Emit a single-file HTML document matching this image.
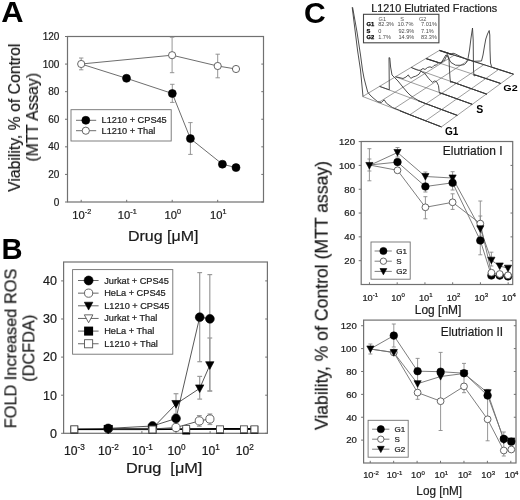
<!DOCTYPE html>
<html><head><meta charset="utf-8"><style>
html,body{margin:0;padding:0;background:#fff;}
svg{display:block;font-family:"Liberation Sans", sans-serif;}
text{will-change:transform;}
text:not([font-weight=bold]){stroke:#222;stroke-width:0.22px;}
</style></head><body>
<svg width="520" height="500" viewBox="0 0 520 500">
<rect width="520" height="500" fill="#fff"/>
<text transform="translate(1.33,21.70) scale(1.0349,1)" font-size="29.86" font-weight="bold" fill="#000">A</text>
<rect x="67.50" y="36.50" width="196.00" height="165.50" stroke="#717171" stroke-width="1.2" fill="none"/>
<line x1="65.00" y1="202.00" x2="67.50" y2="202.00" stroke="#717171" stroke-width="1.0" />
<line x1="263.50" y1="202.00" x2="261.30" y2="202.00" stroke="#717171" stroke-width="1.0" />
<text x="59.40" y="205.50" font-size="10.0" text-anchor="end" font-weight="normal" fill="#1a1a1a" >0</text>
<line x1="65.00" y1="174.42" x2="67.50" y2="174.42" stroke="#717171" stroke-width="1.0" />
<line x1="263.50" y1="174.42" x2="261.30" y2="174.42" stroke="#717171" stroke-width="1.0" />
<text x="59.40" y="177.92" font-size="10.0" text-anchor="end" font-weight="normal" fill="#1a1a1a" >20</text>
<line x1="65.00" y1="146.83" x2="67.50" y2="146.83" stroke="#717171" stroke-width="1.0" />
<line x1="263.50" y1="146.83" x2="261.30" y2="146.83" stroke="#717171" stroke-width="1.0" />
<text x="59.40" y="150.33" font-size="10.0" text-anchor="end" font-weight="normal" fill="#1a1a1a" >40</text>
<line x1="65.00" y1="119.25" x2="67.50" y2="119.25" stroke="#717171" stroke-width="1.0" />
<line x1="263.50" y1="119.25" x2="261.30" y2="119.25" stroke="#717171" stroke-width="1.0" />
<text x="59.40" y="122.75" font-size="10.0" text-anchor="end" font-weight="normal" fill="#1a1a1a" >60</text>
<line x1="65.00" y1="91.67" x2="67.50" y2="91.67" stroke="#717171" stroke-width="1.0" />
<line x1="263.50" y1="91.67" x2="261.30" y2="91.67" stroke="#717171" stroke-width="1.0" />
<text x="59.40" y="95.17" font-size="10.0" text-anchor="end" font-weight="normal" fill="#1a1a1a" >80</text>
<line x1="65.00" y1="64.08" x2="67.50" y2="64.08" stroke="#717171" stroke-width="1.0" />
<line x1="263.50" y1="64.08" x2="261.30" y2="64.08" stroke="#717171" stroke-width="1.0" />
<text x="59.40" y="67.58" font-size="10.0" text-anchor="end" font-weight="normal" fill="#1a1a1a" >100</text>
<line x1="65.00" y1="36.50" x2="67.50" y2="36.50" stroke="#717171" stroke-width="1.0" />
<line x1="263.50" y1="36.50" x2="261.30" y2="36.50" stroke="#717171" stroke-width="1.0" />
<text x="59.40" y="40.00" font-size="10.0" text-anchor="end" font-weight="normal" fill="#1a1a1a" >120</text>
<line x1="81.20" y1="202.00" x2="81.20" y2="199.80" stroke="#717171" stroke-width="1.0" />
<text x="81.80" y="218.80" font-size="11.2" text-anchor="middle" fill="#1a1a1a">10<tspan font-size="7.2" dy="-4.4">-2</tspan></text>
<line x1="126.70" y1="202.00" x2="126.70" y2="199.80" stroke="#717171" stroke-width="1.0" />
<text x="127.30" y="218.80" font-size="11.2" text-anchor="middle" fill="#1a1a1a">10<tspan font-size="7.2" dy="-4.4">-1</tspan></text>
<line x1="172.20" y1="202.00" x2="172.20" y2="199.80" stroke="#717171" stroke-width="1.0" />
<text x="172.80" y="218.80" font-size="11.2" text-anchor="middle" fill="#1a1a1a">10<tspan font-size="7.2" dy="-4.4">0</tspan></text>
<line x1="217.70" y1="202.00" x2="217.70" y2="199.80" stroke="#717171" stroke-width="1.0" />
<text x="218.30" y="218.80" font-size="11.2" text-anchor="middle" fill="#1a1a1a">10<tspan font-size="7.2" dy="-4.4">1</tspan></text>
<text transform="translate(127.92,241.00) scale(1.0827,1)" font-size="14.78" font-weight="normal" fill="#1a1a1a">Drug [&#956;M]</text>
<text transform="translate(20.00,191.88) rotate(-90) scale(0.9716,1)" font-size="16.23" font-weight="normal" fill="#1a1a1a">Viability, % of Control</text>
<text transform="translate(38.00,161.64) rotate(-90) scale(0.9520,1)" font-size="16.52" font-weight="normal" fill="#1a1a1a">(MTT Assay)</text>
<polyline points="81.20,64.00 126.50,78.30 172.30,93.50 190.40,138.60 222.40,164.20 236.00,167.60" fill="none" stroke="#6e6e6e" stroke-width="1.0" stroke-linejoin="round" />
<polyline points="81.20,64.00 172.10,55.20 217.70,66.00 236.00,69.00" fill="none" stroke="#6e6e6e" stroke-width="1.0" stroke-linejoin="round" />
<line x1="81.20" y1="58.00" x2="81.20" y2="69.80" stroke="#8a8a8a" stroke-width="0.9" />
<line x1="79.00" y1="58.00" x2="83.40" y2="58.00" stroke="#8a8a8a" stroke-width="0.9" />
<line x1="79.00" y1="69.80" x2="83.40" y2="69.80" stroke="#8a8a8a" stroke-width="0.9" />
<line x1="172.10" y1="37.20" x2="172.10" y2="72.70" stroke="#8a8a8a" stroke-width="0.9" />
<line x1="169.90" y1="37.20" x2="174.30" y2="37.20" stroke="#8a8a8a" stroke-width="0.9" />
<line x1="169.90" y1="72.70" x2="174.30" y2="72.70" stroke="#8a8a8a" stroke-width="0.9" />
<line x1="217.70" y1="54.20" x2="217.70" y2="77.80" stroke="#8a8a8a" stroke-width="0.9" />
<line x1="215.50" y1="54.20" x2="219.90" y2="54.20" stroke="#8a8a8a" stroke-width="0.9" />
<line x1="215.50" y1="77.80" x2="219.90" y2="77.80" stroke="#8a8a8a" stroke-width="0.9" />
<line x1="172.30" y1="84.30" x2="172.30" y2="102.40" stroke="#8a8a8a" stroke-width="0.9" />
<line x1="170.10" y1="84.30" x2="174.50" y2="84.30" stroke="#8a8a8a" stroke-width="0.9" />
<line x1="170.10" y1="102.40" x2="174.50" y2="102.40" stroke="#8a8a8a" stroke-width="0.9" />
<line x1="190.40" y1="122.60" x2="190.40" y2="154.40" stroke="#8a8a8a" stroke-width="0.9" />
<line x1="188.20" y1="122.60" x2="192.60" y2="122.60" stroke="#8a8a8a" stroke-width="0.9" />
<line x1="188.20" y1="154.40" x2="192.60" y2="154.40" stroke="#8a8a8a" stroke-width="0.9" />
<circle cx="126.50" cy="78.30" r="4.0" fill="#000" stroke="#000" stroke-width="0.6"/>
<circle cx="172.30" cy="93.50" r="4.0" fill="#000" stroke="#000" stroke-width="0.6"/>
<circle cx="190.40" cy="138.60" r="4.0" fill="#000" stroke="#000" stroke-width="0.6"/>
<circle cx="222.40" cy="164.20" r="4.0" fill="#000" stroke="#000" stroke-width="0.6"/>
<circle cx="236.00" cy="167.60" r="4.0" fill="#000" stroke="#000" stroke-width="0.6"/>
<circle cx="81.20" cy="64.00" r="3.6" fill="#fff" stroke="#555" stroke-width="0.9"/>
<circle cx="172.10" cy="55.20" r="3.6" fill="#fff" stroke="#555" stroke-width="0.9"/>
<circle cx="217.70" cy="66.00" r="3.6" fill="#fff" stroke="#555" stroke-width="0.9"/>
<circle cx="236.00" cy="69.00" r="3.6" fill="#fff" stroke="#555" stroke-width="0.9"/>
<rect x="71.00" y="109.70" width="100.20" height="31.30" stroke="#717171" stroke-width="0.9" fill="none"/>
<line x1="76.00" y1="120.30" x2="96.20" y2="120.30" stroke="#6e6e6e" stroke-width="1.0" />
<circle cx="85.80" cy="120.30" r="4.0" fill="#000" stroke="#000" stroke-width="0.6"/>
<text x="101.60" y="123.20" font-size="9.2" text-anchor="start" font-weight="normal" fill="#1a1a1a" >L1210 + CPS45</text>
<line x1="76.00" y1="130.70" x2="96.20" y2="130.70" stroke="#6e6e6e" stroke-width="1.0" />
<circle cx="85.80" cy="130.70" r="3.6" fill="#fff" stroke="#555" stroke-width="0.9"/>
<text x="101.60" y="133.60" font-size="9.2" text-anchor="start" font-weight="normal" fill="#1a1a1a" >L1210 + Thal</text>
<text transform="translate(1.60,258.90) scale(0.9918,1)" font-size="29.42" font-weight="bold" fill="#000">B</text>
<rect x="63.60" y="262.00" width="203.80" height="171.30" stroke="#717171" stroke-width="1.2" fill="none"/>
<line x1="61.10" y1="433.30" x2="63.60" y2="433.30" stroke="#717171" stroke-width="1.0" />
<line x1="267.40" y1="433.30" x2="265.20" y2="433.30" stroke="#717171" stroke-width="1.0" />
<text x="57.00" y="437.60" font-size="12.5" text-anchor="end" font-weight="normal" fill="#1a1a1a" >0</text>
<line x1="61.10" y1="395.20" x2="63.60" y2="395.20" stroke="#717171" stroke-width="1.0" />
<line x1="267.40" y1="395.20" x2="265.20" y2="395.20" stroke="#717171" stroke-width="1.0" />
<text x="57.00" y="399.50" font-size="12.5" text-anchor="end" font-weight="normal" fill="#1a1a1a" >10</text>
<line x1="61.10" y1="357.10" x2="63.60" y2="357.10" stroke="#717171" stroke-width="1.0" />
<line x1="267.40" y1="357.10" x2="265.20" y2="357.10" stroke="#717171" stroke-width="1.0" />
<text x="57.00" y="361.40" font-size="12.5" text-anchor="end" font-weight="normal" fill="#1a1a1a" >20</text>
<line x1="61.10" y1="319.00" x2="63.60" y2="319.00" stroke="#717171" stroke-width="1.0" />
<line x1="267.40" y1="319.00" x2="265.20" y2="319.00" stroke="#717171" stroke-width="1.0" />
<text x="57.00" y="323.30" font-size="12.5" text-anchor="end" font-weight="normal" fill="#1a1a1a" >30</text>
<line x1="61.10" y1="280.90" x2="63.60" y2="280.90" stroke="#717171" stroke-width="1.0" />
<line x1="267.40" y1="280.90" x2="265.20" y2="280.90" stroke="#717171" stroke-width="1.0" />
<text x="57.00" y="285.20" font-size="12.5" text-anchor="end" font-weight="normal" fill="#1a1a1a" >40</text>
<line x1="73.70" y1="433.30" x2="73.70" y2="431.10" stroke="#717171" stroke-width="1.0" />
<text x="74.30" y="454.80" font-size="12.2" text-anchor="middle" fill="#1a1a1a">10<tspan font-size="8.2" dy="-4.6">-3</tspan></text>
<line x1="107.80" y1="433.30" x2="107.80" y2="431.10" stroke="#717171" stroke-width="1.0" />
<text x="108.40" y="454.80" font-size="12.2" text-anchor="middle" fill="#1a1a1a">10<tspan font-size="8.2" dy="-4.6">-2</tspan></text>
<line x1="141.90" y1="433.30" x2="141.90" y2="431.10" stroke="#717171" stroke-width="1.0" />
<text x="142.50" y="454.80" font-size="12.2" text-anchor="middle" fill="#1a1a1a">10<tspan font-size="8.2" dy="-4.6">-1</tspan></text>
<line x1="176.00" y1="433.30" x2="176.00" y2="431.10" stroke="#717171" stroke-width="1.0" />
<text x="176.60" y="454.80" font-size="12.2" text-anchor="middle" fill="#1a1a1a">10<tspan font-size="8.2" dy="-4.6">0</tspan></text>
<line x1="210.10" y1="433.30" x2="210.10" y2="431.10" stroke="#717171" stroke-width="1.0" />
<text x="210.70" y="454.80" font-size="12.2" text-anchor="middle" fill="#1a1a1a">10<tspan font-size="8.2" dy="-4.6">1</tspan></text>
<line x1="244.20" y1="433.30" x2="244.20" y2="431.10" stroke="#717171" stroke-width="1.0" />
<text x="244.80" y="454.80" font-size="12.2" text-anchor="middle" fill="#1a1a1a">10<tspan font-size="8.2" dy="-4.6">2</tspan></text>
<text transform="translate(125.99,473.40) scale(1.0826,1)" font-size="15.07" font-weight="normal" fill="#1a1a1a">Drug&#160;&#160;[&#956;M]</text>
<text transform="translate(16.40,428.31) rotate(-90) scale(1.0056,1)" font-size="16.23" font-weight="normal" fill="#1a1a1a">FOLD Increased ROS</text>
<text transform="translate(34.40,381.78) rotate(-90) scale(1.0067,1)" font-size="16.23" font-weight="normal" fill="#1a1a1a">(DCFDA)</text>
<polyline points="74.30,429.20 108.20,429.10 152.50,429.20 186.20,429.00 220.00,428.80 243.90,428.80 254.40,428.90" fill="none" stroke="#000" stroke-width="1.6" stroke-linejoin="round" />
<polyline points="74.30,429.60 108.20,429.60 152.50,429.60 186.20,429.40 220.00,429.30 243.90,429.30 254.40,429.30" fill="none" stroke="#000" stroke-width="1.0" stroke-linejoin="round" />
<polyline points="108.20,428.40 152.50,426.00 176.00,418.50 199.70,317.20 209.90,318.80" fill="none" stroke="#444" stroke-width="0.9" stroke-linejoin="round" />
<polyline points="108.20,429.00 152.50,429.00 176.00,427.50 199.30,420.90 209.90,419.00" fill="none" stroke="#444" stroke-width="0.9" stroke-linejoin="round" />
<polyline points="108.20,428.90 152.50,428.30 176.00,404.00 199.70,388.40 209.80,365.20" fill="none" stroke="#444" stroke-width="0.9" stroke-linejoin="round" />
<line x1="199.70" y1="272.60" x2="199.70" y2="361.70" stroke="#9a9a9a" stroke-width="1.2" />
<line x1="197.30" y1="272.60" x2="202.10" y2="272.60" stroke="#9a9a9a" stroke-width="1.2" />
<line x1="197.30" y1="361.70" x2="202.10" y2="361.70" stroke="#9a9a9a" stroke-width="1.2" />
<line x1="209.80" y1="274.60" x2="209.80" y2="391.00" stroke="#9a9a9a" stroke-width="1.2" />
<line x1="207.40" y1="274.60" x2="212.20" y2="274.60" stroke="#9a9a9a" stroke-width="1.2" />
<line x1="207.40" y1="391.00" x2="212.20" y2="391.00" stroke="#9a9a9a" stroke-width="1.2" />
<line x1="176.00" y1="393.70" x2="176.00" y2="414.00" stroke="#9a9a9a" stroke-width="1.2" />
<line x1="173.60" y1="393.70" x2="178.40" y2="393.70" stroke="#9a9a9a" stroke-width="1.2" />
<line x1="173.60" y1="414.00" x2="178.40" y2="414.00" stroke="#9a9a9a" stroke-width="1.2" />
<line x1="199.70" y1="376.40" x2="199.70" y2="399.10" stroke="#9a9a9a" stroke-width="1.2" />
<line x1="197.30" y1="376.40" x2="202.10" y2="376.40" stroke="#9a9a9a" stroke-width="1.2" />
<line x1="197.30" y1="399.10" x2="202.10" y2="399.10" stroke="#9a9a9a" stroke-width="1.2" />
<line x1="209.80" y1="338.00" x2="209.80" y2="391.00" stroke="#9a9a9a" stroke-width="1.2" />
<line x1="207.40" y1="338.00" x2="212.20" y2="338.00" stroke="#9a9a9a" stroke-width="1.2" />
<line x1="207.40" y1="391.00" x2="212.20" y2="391.00" stroke="#9a9a9a" stroke-width="1.2" />
<line x1="199.30" y1="415.60" x2="199.30" y2="426.20" stroke="#9a9a9a" stroke-width="1.2" />
<line x1="196.90" y1="415.60" x2="201.70" y2="415.60" stroke="#9a9a9a" stroke-width="1.2" />
<line x1="196.90" y1="426.20" x2="201.70" y2="426.20" stroke="#9a9a9a" stroke-width="1.2" />
<line x1="209.90" y1="414.00" x2="209.90" y2="424.50" stroke="#9a9a9a" stroke-width="1.2" />
<line x1="207.50" y1="414.00" x2="212.30" y2="414.00" stroke="#9a9a9a" stroke-width="1.2" />
<line x1="207.50" y1="424.50" x2="212.30" y2="424.50" stroke="#9a9a9a" stroke-width="1.2" />
<rect x="70.40" y="425.70" width="7.80" height="7.80" fill="#000"/>
<rect x="148.60" y="425.90" width="7.80" height="7.80" fill="#000"/>
<rect x="182.30" y="426.70" width="7.80" height="7.80" fill="#000"/>
<rect x="216.10" y="425.90" width="7.80" height="7.80" fill="#000"/>
<rect x="240.00" y="425.90" width="7.80" height="7.80" fill="#000"/>
<rect x="250.50" y="425.90" width="7.80" height="7.80" fill="#000"/>
<rect x="70.85" y="425.85" width="6.90" height="6.90" fill="#fff" stroke="#555" stroke-width="0.9"/>
<rect x="149.05" y="426.05" width="6.90" height="6.90" fill="#fff" stroke="#555" stroke-width="0.9"/>
<rect x="182.75" y="425.55" width="6.90" height="6.90" fill="#fff" stroke="#555" stroke-width="0.9"/>
<rect x="216.55" y="425.85" width="6.90" height="6.90" fill="#fff" stroke="#555" stroke-width="0.9"/>
<rect x="240.45" y="425.85" width="6.90" height="6.90" fill="#fff" stroke="#555" stroke-width="0.9"/>
<rect x="250.95" y="425.85" width="6.90" height="6.90" fill="#fff" stroke="#555" stroke-width="0.9"/>
<polygon points="104.02,425.48 112.38,425.48 108.20,433.18" fill="#fff" stroke="#555" stroke-width="0.9" stroke-linejoin="round"/>
<circle cx="108.20" cy="429.00" r="4.1" fill="#fff" stroke="#555" stroke-width="0.9"/>
<circle cx="152.50" cy="429.00" r="4.1" fill="#fff" stroke="#555" stroke-width="0.9"/>
<circle cx="176.00" cy="427.50" r="4.1" fill="#fff" stroke="#555" stroke-width="0.9"/>
<circle cx="199.30" cy="420.90" r="4.1" fill="#fff" stroke="#555" stroke-width="0.9"/>
<circle cx="209.90" cy="419.00" r="4.1" fill="#fff" stroke="#555" stroke-width="0.9"/>
<polygon points="104.02,425.38 112.38,425.38 108.20,433.08" fill="#000" stroke="#000" stroke-width="0.6" stroke-linejoin="round"/>
<polygon points="148.32,424.78 156.68,424.78 152.50,432.48" fill="#000" stroke="#000" stroke-width="0.6" stroke-linejoin="round"/>
<polygon points="171.82,400.48 180.18,400.48 176.00,408.18" fill="#000" stroke="#000" stroke-width="0.6" stroke-linejoin="round"/>
<polygon points="195.52,384.88 203.88,384.88 199.70,392.58" fill="#000" stroke="#000" stroke-width="0.6" stroke-linejoin="round"/>
<polygon points="205.62,361.68 213.98,361.68 209.80,369.38" fill="#000" stroke="#000" stroke-width="0.6" stroke-linejoin="round"/>
<circle cx="108.20" cy="428.40" r="4.4" fill="#000" stroke="#000" stroke-width="0.6"/>
<circle cx="152.50" cy="426.00" r="4.4" fill="#000" stroke="#000" stroke-width="0.6"/>
<circle cx="176.00" cy="418.50" r="4.4" fill="#000" stroke="#000" stroke-width="0.6"/>
<circle cx="199.70" cy="317.20" r="4.4" fill="#000" stroke="#000" stroke-width="0.6"/>
<circle cx="209.90" cy="318.80" r="4.4" fill="#000" stroke="#000" stroke-width="0.6"/>
<polygon points="104.02,426.08 112.38,426.08 108.20,433.78" fill="#000" stroke="#000" stroke-width="0.6" stroke-linejoin="round"/>
<rect x="149.05" y="426.05" width="6.90" height="6.90" fill="#fff" stroke="#555" stroke-width="0.9"/>
<rect x="72.60" y="269.60" width="100.20" height="84.60" stroke="#717171" stroke-width="0.9" fill="none"/>
<line x1="78.00" y1="280.50" x2="98.60" y2="280.50" stroke="#555" stroke-width="0.9" />
<circle cx="88.60" cy="280.50" r="4.5" fill="#000" stroke="#000" stroke-width="0.6"/>
<text x="104.20" y="283.50" font-size="9.2" text-anchor="start" font-weight="normal" fill="#1a1a1a" >Jurkat + CPS45</text>
<line x1="78.00" y1="293.15" x2="98.60" y2="293.15" stroke="#555" stroke-width="0.9" />
<circle cx="88.60" cy="293.15" r="4.1" fill="#fff" stroke="#555" stroke-width="0.9"/>
<text x="104.20" y="296.15" font-size="9.2" text-anchor="start" font-weight="normal" fill="#1a1a1a" >HeLa + CPS45</text>
<line x1="78.00" y1="305.80" x2="98.60" y2="305.80" stroke="#555" stroke-width="0.9" />
<polygon points="84.32,302.20 92.88,302.20 88.60,310.07" fill="#000" stroke="#000" stroke-width="0.6" stroke-linejoin="round"/>
<text x="104.20" y="308.80" font-size="9.2" text-anchor="start" font-weight="normal" fill="#1a1a1a" >L1210 + CPS45</text>
<line x1="78.00" y1="318.45" x2="98.60" y2="318.45" stroke="#555" stroke-width="0.9" />
<polygon points="84.32,314.85 92.88,314.85 88.60,322.72" fill="#fff" stroke="#555" stroke-width="0.9" stroke-linejoin="round"/>
<text x="104.20" y="321.45" font-size="9.2" text-anchor="start" font-weight="normal" fill="#1a1a1a" >Jurkat + Thal</text>
<line x1="78.00" y1="331.10" x2="98.60" y2="331.10" stroke="#555" stroke-width="0.9" />
<rect x="84.10" y="326.60" width="9.00" height="9.00" fill="#000"/>
<text x="104.20" y="334.10" font-size="9.2" text-anchor="start" font-weight="normal" fill="#1a1a1a" >HeLa + Thal</text>
<line x1="78.00" y1="343.75" x2="98.60" y2="343.75" stroke="#555" stroke-width="0.9" />
<rect x="84.55" y="339.70" width="8.10" height="8.10" fill="#fff" stroke="#555" stroke-width="0.9"/>
<text x="104.20" y="346.75" font-size="9.2" text-anchor="start" font-weight="normal" fill="#1a1a1a" >L1210 + Thal</text>
<text transform="translate(304.00,22.80) scale(1.0316,1)" font-size="29.15" font-weight="bold" fill="#000">C</text>
<rect x="361.20" y="141.50" width="151.50" height="143.00" stroke="#717171" stroke-width="1.2" fill="none"/>
<line x1="358.70" y1="260.68" x2="361.20" y2="260.68" stroke="#717171" stroke-width="1.0" />
<line x1="512.70" y1="260.68" x2="510.50" y2="260.68" stroke="#717171" stroke-width="1.0" />
<text x="355.00" y="263.98" font-size="9.6" text-anchor="end" font-weight="normal" fill="#1a1a1a" >20</text>
<line x1="358.70" y1="236.86" x2="361.20" y2="236.86" stroke="#717171" stroke-width="1.0" />
<line x1="512.70" y1="236.86" x2="510.50" y2="236.86" stroke="#717171" stroke-width="1.0" />
<text x="355.00" y="240.16" font-size="9.6" text-anchor="end" font-weight="normal" fill="#1a1a1a" >40</text>
<line x1="358.70" y1="213.04" x2="361.20" y2="213.04" stroke="#717171" stroke-width="1.0" />
<line x1="512.70" y1="213.04" x2="510.50" y2="213.04" stroke="#717171" stroke-width="1.0" />
<text x="355.00" y="216.34" font-size="9.6" text-anchor="end" font-weight="normal" fill="#1a1a1a" >60</text>
<line x1="358.70" y1="189.22" x2="361.20" y2="189.22" stroke="#717171" stroke-width="1.0" />
<line x1="512.70" y1="189.22" x2="510.50" y2="189.22" stroke="#717171" stroke-width="1.0" />
<text x="355.00" y="192.52" font-size="9.6" text-anchor="end" font-weight="normal" fill="#1a1a1a" >80</text>
<line x1="358.70" y1="165.40" x2="361.20" y2="165.40" stroke="#717171" stroke-width="1.0" />
<line x1="512.70" y1="165.40" x2="510.50" y2="165.40" stroke="#717171" stroke-width="1.0" />
<text x="355.00" y="168.70" font-size="9.6" text-anchor="end" font-weight="normal" fill="#1a1a1a" >100</text>
<line x1="358.70" y1="141.58" x2="361.20" y2="141.58" stroke="#717171" stroke-width="1.0" />
<line x1="512.70" y1="141.58" x2="510.50" y2="141.58" stroke="#717171" stroke-width="1.0" />
<text x="355.00" y="144.88" font-size="9.6" text-anchor="end" font-weight="normal" fill="#1a1a1a" >120</text>
<line x1="369.46" y1="284.50" x2="369.46" y2="282.30" stroke="#717171" stroke-width="1.0" />
<text x="370.26" y="300.50" font-size="9.3" text-anchor="middle" fill="#1a1a1a">10<tspan font-size="6.0" dy="-3.6">-1</tspan></text>
<line x1="397.20" y1="284.50" x2="397.20" y2="282.30" stroke="#717171" stroke-width="1.0" />
<text x="398.00" y="300.50" font-size="9.3" text-anchor="middle" fill="#1a1a1a">10<tspan font-size="6.0" dy="-3.6">0</tspan></text>
<line x1="424.94" y1="284.50" x2="424.94" y2="282.30" stroke="#717171" stroke-width="1.0" />
<text x="425.74" y="300.50" font-size="9.3" text-anchor="middle" fill="#1a1a1a">10<tspan font-size="6.0" dy="-3.6">1</tspan></text>
<line x1="452.68" y1="284.50" x2="452.68" y2="282.30" stroke="#717171" stroke-width="1.0" />
<text x="453.48" y="300.50" font-size="9.3" text-anchor="middle" fill="#1a1a1a">10<tspan font-size="6.0" dy="-3.6">2</tspan></text>
<line x1="480.42" y1="284.50" x2="480.42" y2="282.30" stroke="#717171" stroke-width="1.0" />
<text x="481.22" y="300.50" font-size="9.3" text-anchor="middle" fill="#1a1a1a">10<tspan font-size="6.0" dy="-3.6">3</tspan></text>
<line x1="508.16" y1="284.50" x2="508.16" y2="282.30" stroke="#717171" stroke-width="1.0" />
<text x="508.96" y="300.50" font-size="9.3" text-anchor="middle" fill="#1a1a1a">10<tspan font-size="6.0" dy="-3.6">4</tspan></text>
<text transform="translate(414.84,313.80) scale(0.9818,1)" font-size="12.17" font-weight="normal" fill="#1a1a1a">Log [nM]</text>
<text transform="translate(442.84,155.40) scale(0.9931,1)" font-size="12.03" font-weight="normal" fill="#1a1a1a">Elutriation I</text>
<polyline points="369.40,165.00 397.50,170.30 425.40,207.30 452.60,202.30 480.30,223.60 491.40,272.70 499.70,274.00 508.00,275.30" fill="none" stroke="#6e6e6e" stroke-width="0.9" stroke-linejoin="round" />
<polyline points="369.40,165.00 397.50,162.10 425.40,186.50 452.60,182.80 480.30,240.50 491.40,275.50 499.70,275.60 508.00,276.40" fill="none" stroke="#6e6e6e" stroke-width="0.9" stroke-linejoin="round" />
<polyline points="369.40,165.50 397.50,152.50 425.40,176.50 452.60,178.00 480.30,228.80 491.40,260.20 499.70,266.00 508.00,268.20" fill="none" stroke="#6e6e6e" stroke-width="0.9" stroke-linejoin="round" />
<line x1="369.40" y1="148.70" x2="369.40" y2="180.80" stroke="#8a8a8a" stroke-width="0.9" />
<line x1="367.40" y1="148.70" x2="371.40" y2="148.70" stroke="#8a8a8a" stroke-width="0.9" />
<line x1="367.40" y1="180.80" x2="371.40" y2="180.80" stroke="#8a8a8a" stroke-width="0.9" />
<line x1="369.40" y1="159.00" x2="369.40" y2="171.00" stroke="#8a8a8a" stroke-width="0.9" />
<line x1="367.40" y1="159.00" x2="371.40" y2="159.00" stroke="#8a8a8a" stroke-width="0.9" />
<line x1="367.40" y1="171.00" x2="371.40" y2="171.00" stroke="#8a8a8a" stroke-width="0.9" />
<line x1="397.50" y1="147.50" x2="397.50" y2="157.00" stroke="#8a8a8a" stroke-width="0.9" />
<line x1="395.50" y1="147.50" x2="399.50" y2="147.50" stroke="#8a8a8a" stroke-width="0.9" />
<line x1="395.50" y1="157.00" x2="399.50" y2="157.00" stroke="#8a8a8a" stroke-width="0.9" />
<line x1="425.40" y1="196.70" x2="425.40" y2="218.80" stroke="#8a8a8a" stroke-width="0.9" />
<line x1="423.40" y1="196.70" x2="427.40" y2="196.70" stroke="#8a8a8a" stroke-width="0.9" />
<line x1="423.40" y1="218.80" x2="427.40" y2="218.80" stroke="#8a8a8a" stroke-width="0.9" />
<line x1="425.40" y1="172.00" x2="425.40" y2="192.00" stroke="#8a8a8a" stroke-width="0.9" />
<line x1="423.40" y1="172.00" x2="427.40" y2="172.00" stroke="#8a8a8a" stroke-width="0.9" />
<line x1="423.40" y1="192.00" x2="427.40" y2="192.00" stroke="#8a8a8a" stroke-width="0.9" />
<line x1="452.60" y1="171.70" x2="452.60" y2="190.00" stroke="#8a8a8a" stroke-width="0.9" />
<line x1="450.60" y1="171.70" x2="454.60" y2="171.70" stroke="#8a8a8a" stroke-width="0.9" />
<line x1="450.60" y1="190.00" x2="454.60" y2="190.00" stroke="#8a8a8a" stroke-width="0.9" />
<line x1="452.60" y1="193.80" x2="452.60" y2="209.40" stroke="#8a8a8a" stroke-width="0.9" />
<line x1="450.60" y1="193.80" x2="454.60" y2="193.80" stroke="#8a8a8a" stroke-width="0.9" />
<line x1="450.60" y1="209.40" x2="454.60" y2="209.40" stroke="#8a8a8a" stroke-width="0.9" />
<line x1="480.30" y1="201.00" x2="480.30" y2="254.80" stroke="#8a8a8a" stroke-width="0.9" />
<line x1="478.30" y1="201.00" x2="482.30" y2="201.00" stroke="#8a8a8a" stroke-width="0.9" />
<line x1="478.30" y1="254.80" x2="482.30" y2="254.80" stroke="#8a8a8a" stroke-width="0.9" />
<line x1="480.30" y1="216.00" x2="480.30" y2="236.00" stroke="#8a8a8a" stroke-width="0.9" />
<line x1="478.30" y1="216.00" x2="482.30" y2="216.00" stroke="#8a8a8a" stroke-width="0.9" />
<line x1="478.30" y1="236.00" x2="482.30" y2="236.00" stroke="#8a8a8a" stroke-width="0.9" />
<line x1="491.40" y1="252.20" x2="491.40" y2="266.00" stroke="#8a8a8a" stroke-width="0.9" />
<line x1="489.40" y1="252.20" x2="493.40" y2="252.20" stroke="#8a8a8a" stroke-width="0.9" />
<line x1="489.40" y1="266.00" x2="493.40" y2="266.00" stroke="#8a8a8a" stroke-width="0.9" />
<circle cx="397.50" cy="162.10" r="3.8" fill="#000" stroke="#000" stroke-width="0.6"/>
<circle cx="425.40" cy="186.50" r="3.8" fill="#000" stroke="#000" stroke-width="0.6"/>
<circle cx="452.60" cy="182.80" r="3.8" fill="#000" stroke="#000" stroke-width="0.6"/>
<circle cx="480.30" cy="240.50" r="3.8" fill="#000" stroke="#000" stroke-width="0.6"/>
<circle cx="491.40" cy="275.50" r="3.8" fill="#000" stroke="#000" stroke-width="0.6"/>
<circle cx="499.70" cy="275.60" r="3.8" fill="#000" stroke="#000" stroke-width="0.6"/>
<circle cx="508.00" cy="276.40" r="3.8" fill="#000" stroke="#000" stroke-width="0.6"/>
<circle cx="397.50" cy="170.30" r="3.4" fill="#fff" stroke="#555" stroke-width="0.9"/>
<circle cx="425.40" cy="207.30" r="3.4" fill="#fff" stroke="#555" stroke-width="0.9"/>
<circle cx="452.60" cy="202.30" r="3.4" fill="#fff" stroke="#555" stroke-width="0.9"/>
<circle cx="480.30" cy="223.60" r="3.4" fill="#fff" stroke="#555" stroke-width="0.9"/>
<circle cx="491.40" cy="272.70" r="3.4" fill="#fff" stroke="#555" stroke-width="0.9"/>
<circle cx="499.70" cy="274.00" r="3.4" fill="#fff" stroke="#555" stroke-width="0.9"/>
<circle cx="508.00" cy="275.30" r="3.4" fill="#fff" stroke="#555" stroke-width="0.9"/>
<polygon points="365.79,162.46 373.01,162.46 369.40,169.11" fill="#000" stroke="#000" stroke-width="0.6" stroke-linejoin="round"/>
<polygon points="393.89,149.46 401.11,149.46 397.50,156.11" fill="#000" stroke="#000" stroke-width="0.6" stroke-linejoin="round"/>
<polygon points="421.79,173.46 429.01,173.46 425.40,180.11" fill="#000" stroke="#000" stroke-width="0.6" stroke-linejoin="round"/>
<polygon points="448.99,174.96 456.21,174.96 452.60,181.61" fill="#000" stroke="#000" stroke-width="0.6" stroke-linejoin="round"/>
<polygon points="476.69,225.76 483.91,225.76 480.30,232.41" fill="#000" stroke="#000" stroke-width="0.6" stroke-linejoin="round"/>
<polygon points="487.79,257.16 495.01,257.16 491.40,263.81" fill="#000" stroke="#000" stroke-width="0.6" stroke-linejoin="round"/>
<polygon points="496.09,262.96 503.31,262.96 499.70,269.61" fill="#000" stroke="#000" stroke-width="0.6" stroke-linejoin="round"/>
<polygon points="504.39,265.16 511.61,265.16 508.00,271.81" fill="#000" stroke="#000" stroke-width="0.6" stroke-linejoin="round"/>
<rect x="371.00" y="242.00" width="39.20" height="37.20" stroke="#717171" stroke-width="0.9" fill="none"/>
<line x1="374.60" y1="251.00" x2="391.80" y2="251.00" stroke="#6e6e6e" stroke-width="0.9" />
<circle cx="383.40" cy="251.00" r="3.6" fill="#000" stroke="#000" stroke-width="0.6"/>
<text x="396.30" y="253.90" font-size="8.0" text-anchor="start" font-weight="normal" fill="#1a1a1a" >G1</text>
<line x1="374.60" y1="261.20" x2="391.80" y2="261.20" stroke="#6e6e6e" stroke-width="0.9" />
<circle cx="383.40" cy="261.20" r="3.2" fill="#fff" stroke="#555" stroke-width="0.9"/>
<text x="396.30" y="264.10" font-size="8.0" text-anchor="start" font-weight="normal" fill="#1a1a1a" >S</text>
<line x1="374.60" y1="271.40" x2="391.80" y2="271.40" stroke="#6e6e6e" stroke-width="0.9" />
<polygon points="379.98,268.52 386.82,268.52 383.40,274.82" fill="#000" stroke="#000" stroke-width="0.6" stroke-linejoin="round"/>
<text x="396.30" y="274.30" font-size="8.0" text-anchor="start" font-weight="normal" fill="#1a1a1a" >G2</text>
<rect x="363.60" y="320.10" width="152.40" height="142.90" stroke="#717171" stroke-width="1.2" fill="none"/>
<line x1="361.10" y1="440.12" x2="363.60" y2="440.12" stroke="#717171" stroke-width="1.0" />
<line x1="516.00" y1="440.12" x2="513.80" y2="440.12" stroke="#717171" stroke-width="1.0" />
<text x="356.80" y="443.42" font-size="9.6" text-anchor="end" font-weight="normal" fill="#1a1a1a" >20</text>
<line x1="361.10" y1="417.24" x2="363.60" y2="417.24" stroke="#717171" stroke-width="1.0" />
<line x1="516.00" y1="417.24" x2="513.80" y2="417.24" stroke="#717171" stroke-width="1.0" />
<text x="356.80" y="420.54" font-size="9.6" text-anchor="end" font-weight="normal" fill="#1a1a1a" >40</text>
<line x1="361.10" y1="394.36" x2="363.60" y2="394.36" stroke="#717171" stroke-width="1.0" />
<line x1="516.00" y1="394.36" x2="513.80" y2="394.36" stroke="#717171" stroke-width="1.0" />
<text x="356.80" y="397.66" font-size="9.6" text-anchor="end" font-weight="normal" fill="#1a1a1a" >60</text>
<line x1="361.10" y1="371.48" x2="363.60" y2="371.48" stroke="#717171" stroke-width="1.0" />
<line x1="516.00" y1="371.48" x2="513.80" y2="371.48" stroke="#717171" stroke-width="1.0" />
<text x="356.80" y="374.78" font-size="9.6" text-anchor="end" font-weight="normal" fill="#1a1a1a" >80</text>
<line x1="361.10" y1="348.60" x2="363.60" y2="348.60" stroke="#717171" stroke-width="1.0" />
<line x1="516.00" y1="348.60" x2="513.80" y2="348.60" stroke="#717171" stroke-width="1.0" />
<text x="356.80" y="351.90" font-size="9.6" text-anchor="end" font-weight="normal" fill="#1a1a1a" >100</text>
<line x1="361.10" y1="325.72" x2="363.60" y2="325.72" stroke="#717171" stroke-width="1.0" />
<line x1="516.00" y1="325.72" x2="513.80" y2="325.72" stroke="#717171" stroke-width="1.0" />
<text x="356.80" y="329.02" font-size="9.6" text-anchor="end" font-weight="normal" fill="#1a1a1a" >120</text>
<line x1="370.24" y1="463.00" x2="370.24" y2="460.80" stroke="#717171" stroke-width="1.0" />
<text x="371.04" y="478.40" font-size="9.3" text-anchor="middle" fill="#1a1a1a">10<tspan font-size="6.0" dy="-3.6">-2</tspan></text>
<line x1="393.67" y1="463.00" x2="393.67" y2="460.80" stroke="#717171" stroke-width="1.0" />
<text x="394.47" y="478.40" font-size="9.3" text-anchor="middle" fill="#1a1a1a">10<tspan font-size="6.0" dy="-3.6">-1</tspan></text>
<line x1="417.10" y1="463.00" x2="417.10" y2="460.80" stroke="#717171" stroke-width="1.0" />
<text x="417.90" y="478.40" font-size="9.3" text-anchor="middle" fill="#1a1a1a">10<tspan font-size="6.0" dy="-3.6">0</tspan></text>
<line x1="440.53" y1="463.00" x2="440.53" y2="460.80" stroke="#717171" stroke-width="1.0" />
<text x="441.33" y="478.40" font-size="9.3" text-anchor="middle" fill="#1a1a1a">10<tspan font-size="6.0" dy="-3.6">1</tspan></text>
<line x1="463.96" y1="463.00" x2="463.96" y2="460.80" stroke="#717171" stroke-width="1.0" />
<text x="464.76" y="478.40" font-size="9.3" text-anchor="middle" fill="#1a1a1a">10<tspan font-size="6.0" dy="-3.6">2</tspan></text>
<line x1="487.39" y1="463.00" x2="487.39" y2="460.80" stroke="#717171" stroke-width="1.0" />
<text x="488.19" y="478.40" font-size="9.3" text-anchor="middle" fill="#1a1a1a">10<tspan font-size="6.0" dy="-3.6">3</tspan></text>
<line x1="510.82" y1="463.00" x2="510.82" y2="460.80" stroke="#717171" stroke-width="1.0" />
<text x="511.62" y="478.40" font-size="9.3" text-anchor="middle" fill="#1a1a1a">10<tspan font-size="6.0" dy="-3.6">4</tspan></text>
<text transform="translate(416.36,495.20) scale(0.9439,1)" font-size="12.46" font-weight="normal" fill="#1a1a1a">Log [nM]</text>
<text transform="translate(440.75,335.70) scale(0.9595,1)" font-size="12.32" font-weight="normal" fill="#1a1a1a">Elutriation II</text>
<polyline points="370.40,349.00 393.80,352.50 417.60,392.60 440.60,401.20 464.00,386.40 487.60,419.30 503.80,450.50 511.30,449.50" fill="none" stroke="#6e6e6e" stroke-width="0.9" stroke-linejoin="round" />
<polyline points="370.40,348.90 393.80,335.60 417.60,371.20 440.60,371.70 464.00,373.20 487.60,395.50 503.80,438.90 511.30,441.70" fill="none" stroke="#6e6e6e" stroke-width="0.9" stroke-linejoin="round" />
<polyline points="370.40,349.00 393.80,352.50 417.60,383.70 440.60,376.50 464.00,373.50 487.60,392.70 503.80,440.00 511.30,441.00" fill="none" stroke="#6e6e6e" stroke-width="0.9" stroke-linejoin="round" />
<line x1="370.40" y1="344.00" x2="370.40" y2="354.00" stroke="#8a8a8a" stroke-width="0.9" />
<line x1="368.40" y1="344.00" x2="372.40" y2="344.00" stroke="#8a8a8a" stroke-width="0.9" />
<line x1="368.40" y1="354.00" x2="372.40" y2="354.00" stroke="#8a8a8a" stroke-width="0.9" />
<line x1="393.80" y1="324.00" x2="393.80" y2="347.00" stroke="#8a8a8a" stroke-width="0.9" />
<line x1="391.80" y1="324.00" x2="395.80" y2="324.00" stroke="#8a8a8a" stroke-width="0.9" />
<line x1="391.80" y1="347.00" x2="395.80" y2="347.00" stroke="#8a8a8a" stroke-width="0.9" />
<line x1="417.60" y1="358.40" x2="417.60" y2="399.30" stroke="#8a8a8a" stroke-width="0.9" />
<line x1="415.60" y1="358.40" x2="419.60" y2="358.40" stroke="#8a8a8a" stroke-width="0.9" />
<line x1="415.60" y1="399.30" x2="419.60" y2="399.30" stroke="#8a8a8a" stroke-width="0.9" />
<line x1="440.60" y1="352.40" x2="440.60" y2="430.50" stroke="#8a8a8a" stroke-width="0.9" />
<line x1="438.60" y1="352.40" x2="442.60" y2="352.40" stroke="#8a8a8a" stroke-width="0.9" />
<line x1="438.60" y1="430.50" x2="442.60" y2="430.50" stroke="#8a8a8a" stroke-width="0.9" />
<line x1="464.00" y1="363.40" x2="464.00" y2="392.70" stroke="#8a8a8a" stroke-width="0.9" />
<line x1="462.00" y1="363.40" x2="466.00" y2="363.40" stroke="#8a8a8a" stroke-width="0.9" />
<line x1="462.00" y1="392.70" x2="466.00" y2="392.70" stroke="#8a8a8a" stroke-width="0.9" />
<line x1="487.60" y1="389.40" x2="487.60" y2="440.80" stroke="#8a8a8a" stroke-width="0.9" />
<line x1="485.60" y1="389.40" x2="489.60" y2="389.40" stroke="#8a8a8a" stroke-width="0.9" />
<line x1="485.60" y1="440.80" x2="489.60" y2="440.80" stroke="#8a8a8a" stroke-width="0.9" />
<line x1="503.80" y1="432.00" x2="503.80" y2="456.00" stroke="#8a8a8a" stroke-width="0.9" />
<line x1="501.80" y1="432.00" x2="505.80" y2="432.00" stroke="#8a8a8a" stroke-width="0.9" />
<line x1="501.80" y1="456.00" x2="505.80" y2="456.00" stroke="#8a8a8a" stroke-width="0.9" />
<circle cx="393.80" cy="335.60" r="3.8" fill="#000" stroke="#000" stroke-width="0.6"/>
<circle cx="417.60" cy="371.20" r="3.8" fill="#000" stroke="#000" stroke-width="0.6"/>
<circle cx="440.60" cy="371.70" r="3.8" fill="#000" stroke="#000" stroke-width="0.6"/>
<circle cx="464.00" cy="373.20" r="3.8" fill="#000" stroke="#000" stroke-width="0.6"/>
<circle cx="487.60" cy="395.50" r="3.8" fill="#000" stroke="#000" stroke-width="0.6"/>
<circle cx="503.80" cy="438.90" r="3.8" fill="#000" stroke="#000" stroke-width="0.6"/>
<circle cx="511.30" cy="441.70" r="3.8" fill="#000" stroke="#000" stroke-width="0.6"/>
<circle cx="393.80" cy="352.50" r="3.4" fill="#fff" stroke="#555" stroke-width="0.9"/>
<circle cx="417.60" cy="392.60" r="3.4" fill="#fff" stroke="#555" stroke-width="0.9"/>
<circle cx="440.60" cy="401.20" r="3.4" fill="#fff" stroke="#555" stroke-width="0.9"/>
<circle cx="464.00" cy="386.40" r="3.4" fill="#fff" stroke="#555" stroke-width="0.9"/>
<circle cx="487.60" cy="419.30" r="3.4" fill="#fff" stroke="#555" stroke-width="0.9"/>
<circle cx="503.80" cy="450.50" r="3.4" fill="#fff" stroke="#555" stroke-width="0.9"/>
<circle cx="511.30" cy="449.50" r="3.4" fill="#fff" stroke="#555" stroke-width="0.9"/>
<polygon points="366.79,345.96 374.01,345.96 370.40,352.61" fill="#000" stroke="#000" stroke-width="0.6" stroke-linejoin="round"/>
<polygon points="390.19,349.46 397.41,349.46 393.80,356.11" fill="#000" stroke="#000" stroke-width="0.6" stroke-linejoin="round"/>
<polygon points="413.99,380.66 421.21,380.66 417.60,387.31" fill="#000" stroke="#000" stroke-width="0.6" stroke-linejoin="round"/>
<polygon points="436.99,373.46 444.21,373.46 440.60,380.11" fill="#000" stroke="#000" stroke-width="0.6" stroke-linejoin="round"/>
<polygon points="460.39,370.46 467.61,370.46 464.00,377.11" fill="#000" stroke="#000" stroke-width="0.6" stroke-linejoin="round"/>
<polygon points="483.99,389.66 491.21,389.66 487.60,396.31" fill="#000" stroke="#000" stroke-width="0.6" stroke-linejoin="round"/>
<polygon points="500.19,436.96 507.41,436.96 503.80,443.61" fill="#000" stroke="#000" stroke-width="0.6" stroke-linejoin="round"/>
<polygon points="507.69,437.96 514.91,437.96 511.30,444.61" fill="#000" stroke="#000" stroke-width="0.6" stroke-linejoin="round"/>
<rect x="368.10" y="420.30" width="40.10" height="36.90" stroke="#717171" stroke-width="0.9" fill="none"/>
<line x1="372.10" y1="429.20" x2="389.40" y2="429.20" stroke="#6e6e6e" stroke-width="0.9" />
<circle cx="380.80" cy="429.20" r="3.6" fill="#000" stroke="#000" stroke-width="0.6"/>
<text x="394.60" y="432.10" font-size="8.0" text-anchor="start" font-weight="normal" fill="#1a1a1a" >G1</text>
<line x1="372.10" y1="439.20" x2="389.40" y2="439.20" stroke="#6e6e6e" stroke-width="0.9" />
<circle cx="380.80" cy="439.20" r="3.2" fill="#fff" stroke="#555" stroke-width="0.9"/>
<text x="394.60" y="442.10" font-size="8.0" text-anchor="start" font-weight="normal" fill="#1a1a1a" >S</text>
<line x1="372.10" y1="449.20" x2="389.40" y2="449.20" stroke="#6e6e6e" stroke-width="0.9" />
<polygon points="377.38,446.32 384.22,446.32 380.80,452.62" fill="#000" stroke="#000" stroke-width="0.6" stroke-linejoin="round"/>
<text x="394.60" y="452.10" font-size="8.0" text-anchor="start" font-weight="normal" fill="#1a1a1a" >G2</text>
<text transform="translate(327.70,430.19) rotate(-90) scale(0.9432,1)" font-size="18.70" font-weight="normal" fill="#1a1a1a">Viability, % of Control (MTT assay)</text>
<text transform="translate(371.14,11.50) scale(1.0212,1)" font-size="10.58" font-weight="normal" fill="#1a1a1a">L1210 Elutriated Fractions</text>
<rect x="363.50" y="14.30" width="75.40" height="28.50" stroke="#444" stroke-width="1.1" fill="none"/>
<text x="378.60" y="20.60" font-size="5.6" text-anchor="start" font-weight="normal" fill="#555" style="stroke:none">G1</text>
<text x="400.20" y="20.60" font-size="5.6" text-anchor="start" font-weight="normal" fill="#555" style="stroke:none">S</text>
<text x="418.90" y="20.60" font-size="5.6" text-anchor="start" font-weight="normal" fill="#555" style="stroke:none">G2</text>
<text x="366.40" y="26.40" font-size="5.8" text-anchor="start" font-weight="bold" fill="#000" style="stroke:#000;stroke-width:0.25px">G1</text>
<text x="378.20" y="26.40" font-size="5.6" text-anchor="start" font-weight="normal" fill="#4a4a4a" style="stroke:none">82.3%</text>
<text x="397.60" y="26.40" font-size="5.6" text-anchor="start" font-weight="normal" fill="#4a4a4a" style="stroke:none">10.7%</text>
<text x="421.00" y="26.40" font-size="5.6" text-anchor="start" font-weight="normal" fill="#4a4a4a" style="stroke:none">7.01%</text>
<text x="366.40" y="32.80" font-size="5.8" text-anchor="start" font-weight="bold" fill="#000" style="stroke:#000;stroke-width:0.25px">S</text>
<text x="378.20" y="32.80" font-size="5.6" text-anchor="start" font-weight="normal" fill="#4a4a4a" style="stroke:none">0</text>
<text x="398.40" y="32.80" font-size="5.6" text-anchor="start" font-weight="normal" fill="#4a4a4a" style="stroke:none">92.9%</text>
<text x="421.00" y="32.80" font-size="5.6" text-anchor="start" font-weight="normal" fill="#4a4a4a" style="stroke:none">7.1%</text>
<text x="366.40" y="39.20" font-size="5.8" text-anchor="start" font-weight="bold" fill="#000" style="stroke:#000;stroke-width:0.25px">G2</text>
<text x="378.20" y="39.20" font-size="5.6" text-anchor="start" font-weight="normal" fill="#4a4a4a" style="stroke:none">1.7%</text>
<text x="398.40" y="39.20" font-size="5.6" text-anchor="start" font-weight="normal" fill="#4a4a4a" style="stroke:none">14.9%</text>
<text x="421.00" y="39.20" font-size="5.6" text-anchor="start" font-weight="normal" fill="#4a4a4a" style="stroke:none">83.3%</text>
<line x1="362.70" y1="96.50" x2="439.40" y2="50.40" stroke="#727272" stroke-width="0.7" />
<line x1="378.44" y1="102.58" x2="454.22" y2="55.16" stroke="#727272" stroke-width="0.7" />
<line x1="394.18" y1="108.66" x2="469.04" y2="59.92" stroke="#727272" stroke-width="0.7" />
<line x1="409.92" y1="114.74" x2="483.86" y2="64.68" stroke="#727272" stroke-width="0.7" />
<line x1="425.66" y1="120.82" x2="498.68" y2="69.44" stroke="#727272" stroke-width="0.7" />
<line x1="441.40" y1="126.90" x2="513.50" y2="74.20" stroke="#727272" stroke-width="0.7" />
<line x1="362.70" y1="96.50" x2="441.40" y2="126.90" stroke="#727272" stroke-width="0.7" />
<line x1="379.57" y1="86.36" x2="457.30" y2="115.40" stroke="#727272" stroke-width="0.7" />
<line x1="395.45" y1="76.82" x2="472.20" y2="104.30" stroke="#727272" stroke-width="0.7" />
<line x1="411.10" y1="67.41" x2="486.90" y2="94.20" stroke="#727272" stroke-width="0.7" />
<line x1="425.90" y1="58.51" x2="500.80" y2="83.50" stroke="#727272" stroke-width="0.7" />
<line x1="439.40" y1="50.40" x2="513.50" y2="74.20" stroke="#727272" stroke-width="0.7" />
<polyline points="363.00,96.50 360.50,70.00 357.50,50.00 352.20,7.30" fill="none" stroke="#3a3a3a" stroke-width="0.9" stroke-linejoin="round" />
<polyline points="352.60,7.30 357.00,32.00 360.50,55.00 362.50,70.00 364.00,78.00 365.80,85.00 367.70,92.00 370.00,95.00 373.00,97.80 377.30,101.40 381.30,102.60 384.20,99.80 386.50,103.30 392.30,107.40 400.00,110.50 410.00,114.77 441.40,126.90" fill="none" stroke="#3a3a3a" stroke-width="0.9" stroke-linejoin="round" />
<line x1="400.00" y1="110.91" x2="441.40" y2="126.90" stroke="#3a3a3a" stroke-width="1.0" />
<polyline points="379.60,86.40 389.30,89.80 389.00,57.50 389.80,58.00 390.60,67.00 392.00,75.00 394.50,77.50 398.00,81.00 402.00,86.00 407.00,92.00 410.00,95.00 413.50,97.70 418.00,100.30 423.00,102.58 457.30,115.40" fill="none" stroke="#3a3a3a" stroke-width="0.9" stroke-linejoin="round" />
<line x1="418.00" y1="100.72" x2="457.30" y2="115.40" stroke="#3a3a3a" stroke-width="1.0" />
<polyline points="395.50,76.80 399.00,77.50 403.00,78.50 406.00,77.00 408.30,74.90 409.50,77.00 411.00,78.30 413.00,77.00 415.70,76.20 417.00,75.50 419.00,74.20 421.00,70.90 422.50,72.50 424.40,72.90 426.00,75.00 428.50,78.30 430.50,80.50 432.50,82.30 434.50,81.00 436.50,81.60 438.50,85.70 439.20,91.70 440.00,93.80 442.00,93.49 472.20,104.30" fill="none" stroke="#3a3a3a" stroke-width="0.9" stroke-linejoin="round" />
<line x1="440.00" y1="92.77" x2="472.20" y2="104.30" stroke="#3a3a3a" stroke-width="1.0" />
<polyline points="411.10,67.40 415.00,69.20 418.50,70.40 420.40,70.20 423.00,68.50 425.00,69.50 427.50,67.50 430.00,66.80 432.00,67.60 434.00,65.50 436.50,64.80 438.50,63.00 441.00,62.60 443.00,61.00 444.50,60.50 446.00,57.00 447.60,54.50 449.00,59.00 449.50,70.00 450.00,78.00 450.50,82.30 452.00,81.87 486.90,94.20" fill="none" stroke="#3a3a3a" stroke-width="0.9" stroke-linejoin="round" />
<line x1="450.00" y1="81.16" x2="486.90" y2="94.20" stroke="#3a3a3a" stroke-width="1.0" />
<polyline points="425.90,58.50 438.30,62.50 441.00,63.30 443.50,59.00 446.00,54.80 447.50,56.00 448.80,59.00 451.00,62.50 455.60,65.20 460.00,65.30 464.20,64.60 466.50,62.50 468.00,58.50 469.50,50.00 471.00,38.00 472.50,28.00 473.20,40.00 473.50,70.00 474.00,75.90 476.00,75.23 500.80,83.50" fill="none" stroke="#3a3a3a" stroke-width="0.9" stroke-linejoin="round" />
<line x1="474.00" y1="74.56" x2="500.80" y2="83.50" stroke="#3a3a3a" stroke-width="1.0" />
<polyline points="439.40,50.40 444.00,51.80 450.80,54.20 453.00,53.20 455.00,53.80 460.00,56.30 467.00,59.30 473.50,61.30 481.50,61.00 483.00,55.00 484.50,46.00 485.80,39.00 487.50,34.00 489.20,30.50 489.80,35.00 490.00,50.00 490.50,63.00 491.50,66.20 492.00,67.29 513.50,74.20" fill="none" stroke="#3a3a3a" stroke-width="0.9" stroke-linejoin="round" />
<line x1="445.00" y1="52.20" x2="513.50" y2="74.20" stroke="#3a3a3a" stroke-width="1.0" />
<line x1="439.40" y1="50.40" x2="452.00" y2="54.60" stroke="#333" stroke-width="1.2" />
<line x1="426.50" y1="58.71" x2="438.30" y2="62.50" stroke="#333" stroke-width="1.2" />
<text transform="translate(444.90,134.60) scale(0.9939,1)" font-size="10.14" font-weight="bold" fill="#000">G1</text>
<text transform="translate(476.19,112.50) scale(1.0354,1)" font-size="10.14" font-weight="bold" fill="#000">S</text>
<text transform="translate(503.37,90.80) scale(1.0911,1)" font-size="9.86" font-weight="bold" fill="#000">G2</text>
</svg></body></html>
